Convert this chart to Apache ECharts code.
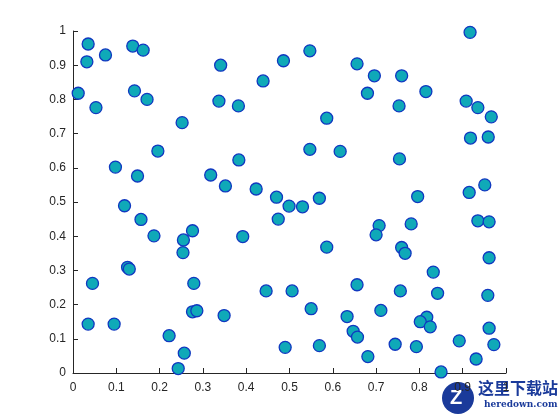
<!DOCTYPE html>
<html><head><meta charset="utf-8">
<script src="https://cdn.jsdelivr.net/npm/echarts@6/dist/echarts.min.js"></script>
<style>html,body{margin:0;padding:0;background:#fff}#c{width:560px;height:420px}</style>
</head><body><div id="c"></div>
<script>
var xValues = [0.035,0.032,0.075,0.138,0.162,0.012,0.053,0.142,0.171,0.341,0.337,0.382,0.439,0.486,0.252,0.196,0.098,0.149,0.318,0.383,0.352,0.423,0.470,0.917,
0.547,0.656,0.696,0.759,0.680,0.815,0.753,0.908,0.935,0.966,0.586,0.918,0.959,0.547,0.617,0.754,0.951,0.915,
0.569,0.796,0.119,0.157,0.187,0.276,0.255,0.254,0.392,
0.474,0.499,0.126,0.130,0.045,0.279,0.446,0.506,0.035,0.095,0.276,0.286,0.349,0.222,0.257,0.243,0.490,
0.530,0.935,0.961,0.707,0.700,0.781,0.586,0.759,0.767,0.961,0.832,0.656,
0.756,0.842,0.958,0.550,0.711,0.633,0.817,0.802,0.825,0.647,0.657,0.961,
0.569,0.744,0.793,0.892,0.972,0.681,0.931,0.850];
var yValues = [0.962,0.910,0.930,0.956,0.944,0.818,0.776,0.825,0.800,0.900,0.795,0.781,0.854,0.913,0.732,0.649,0.602,0.576,0.579,0.623,0.547,0.538,0.514,0.996,
0.942,0.904,0.869,0.869,0.818,0.823,0.781,0.795,0.776,0.749,0.745,0.687,0.690,0.654,0.648,0.626,0.550,0.528,
0.511,0.516,0.489,0.449,0.401,0.416,0.389,0.352,0.399,
0.450,0.488,0.309,0.304,0.262,0.262,0.240,0.240,0.143,0.143,0.179,0.182,0.168,0.109,0.058,0.013,0.075,
0.486,0.445,0.442,0.431,0.404,0.436,0.368,0.367,0.350,0.337,0.295,0.258,
0.240,0.233,0.227,0.188,0.183,0.165,0.163,0.150,0.135,0.122,0.105,0.131,
0.080,0.084,0.077,0.094,0.083,0.048,0.041,0.003];
var tickLabels = ['0','0.1','0.2','0.3','0.4','0.5','0.6','0.7','0.8','0.9','1'];

var pts = xValues.map(function(x,i){return [x,yValues[i]];});
var axisCommon = {
  min:0,max:1,interval:0.1,
  axisLine:{show:true,lineStyle:{color:'#262626',width:1}},
  axisTick:{show:true,inside:true,length:5,lineStyle:{color:'#262626'}},
  splitLine:{show:false},
  axisLabel:{color:'#262626',fontSize:12,fontFamily:'Liberation Sans, Arial, sans-serif',
    formatter:function(v){var k=Math.round(v*10);return tickLabels[k];}}
};
var chart = echarts.init(document.getElementById('c'),null,{renderer:'canvas'});
chart.setOption({
  animation:false,
  backgroundColor:'#fff',
  grid:{left:73,right:54,top:31,bottom:47,containLabel:false},
  xAxis:Object.assign({type:'value',axisLabel:Object.assign({},axisCommon.axisLabel,{margin:9})},
    {min:0,max:1,interval:0.1,axisLine:axisCommon.axisLine,axisTick:axisCommon.axisTick,splitLine:axisCommon.splitLine}),
  yAxis:Object.assign({type:'value',axisLabel:Object.assign({},axisCommon.axisLabel,{margin:7})},
    {min:0,max:1,interval:0.1,axisLine:axisCommon.axisLine,axisTick:axisCommon.axisTick,splitLine:axisCommon.splitLine}),
  series:[{
    type:'scatter',data:pts,symbol:'circle',symbolSize:12,
    itemStyle:{color:'#0fa9b8',borderColor:'#1038c0',borderWidth:1.3,opacity:1}
  }],
  graphic:[
    {type:'circle',shape:{cx:458,cy:398,r:16},style:{fill:'#1a3a9a'}},
    {type:'text',left:450,top:388,style:{text:'Z',fill:'#fff',font:'bold 20px sans-serif'}},
    {type:'text',left:478,top:380,style:{text:'这里下载站',fill:'#1a3a9a',font:'bold 16px "Noto Sans CJK SC"'}},
    {type:'text',left:484,top:400,style:{text:'heredown.com',fill:'#1a3a9a',font:'bold 9px "DejaVu Serif"'}}
  ]
});
</script></body></html>
